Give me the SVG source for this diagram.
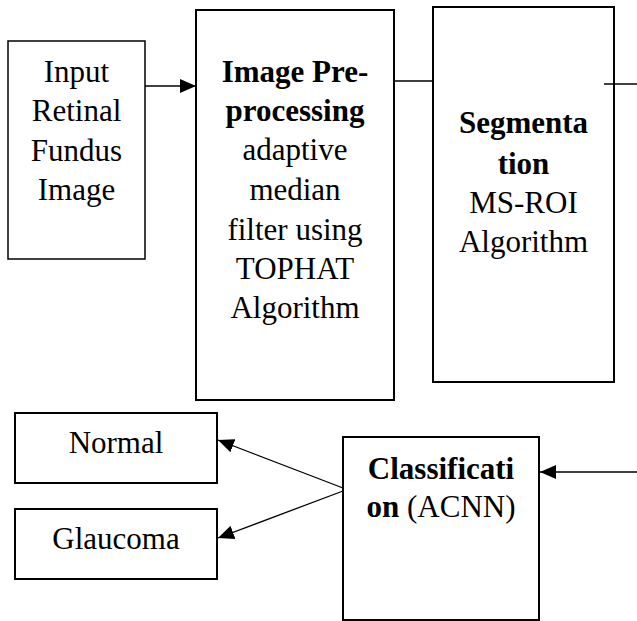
<svg xmlns="http://www.w3.org/2000/svg" width="637" height="621" viewBox="0 0 637 621">
<style>
.box{fill:#fff;stroke:#000;stroke-width:2}
.thin{stroke-width:1.5}
.t{font-family:"Liberation Serif","Times New Roman",serif;font-size:31px;fill:#000;text-anchor:middle}
.b{font-weight:bold}
.c{stroke:#000;stroke-width:1.3;fill:none}
</style>
<defs>
<marker id="ah" markerUnits="userSpaceOnUse" markerWidth="16" markerHeight="14" refX="16" refY="7" orient="auto">
<path d="M0,0 L16,7 L0,14 Z" fill="#000"/>
</marker>
</defs>
<g id="input">
<rect class="box thin" x="8" y="41" width="137" height="218"/>
<text class="t" x="76.5" y="82">Input</text>
<text class="t" x="76.5" y="121">Retinal</text>
<text class="t" x="76.5" y="161">Fundus</text>
<text class="t" x="76.5" y="200">Image</text>
</g>
<g id="preprocessing">
<rect class="box" x="196" y="10" width="198" height="390"/>
<text class="t b" x="295" y="82">Image Pre-</text>
<text class="t b" x="295" y="121">processing</text>
<text class="t" x="295" y="160">adaptive</text>
<text class="t" x="295" y="200">median</text>
<text class="t" x="295" y="240">filter using</text>
<text class="t" x="295" y="279">TOPHAT</text>
<text class="t" x="295" y="318">Algorithm</text>
</g>
<g id="segmentation">
<rect class="box" x="433" y="7" width="181" height="375"/>
<text class="t b" x="523.5" y="133">Segmenta</text>
<text class="t b" x="523.5" y="174">tion</text>
<text class="t" x="523.5" y="213">MS-ROI</text>
<text class="t" x="523.5" y="252">Algorithm</text>
</g>
<g id="classification">
<rect class="box" x="343" y="437" width="196" height="183"/>
<text class="t b" x="441" y="479">Classificati</text>
<text class="t" x="441" y="517"><tspan class="b">on</tspan> (ACNN)</text>
</g>
<g id="normal">
<rect class="box" x="15" y="413" width="202" height="70"/>
<text class="t" x="116" y="453">Normal</text>
</g>
<g id="glaucoma">
<rect class="box" x="15" y="509" width="202" height="70"/>
<text class="t" x="116" y="549">Glaucoma</text>
</g>
<g id="connectors">
<line class="c" x1="145" y1="86" x2="196" y2="86" marker-end="url(#ah)"/>
<line class="c" x1="394" y1="81" x2="433" y2="81"/>
<line class="c" x1="604" y1="84" x2="637" y2="84"/>
<line class="c" x1="637" y1="472" x2="540" y2="472" marker-end="url(#ah)"/>
<line class="c" x1="343" y1="488" x2="218" y2="440" marker-end="url(#ah)"/>
<line class="c" x1="343" y1="491" x2="218" y2="538" marker-end="url(#ah)"/>
</g>
</svg>
